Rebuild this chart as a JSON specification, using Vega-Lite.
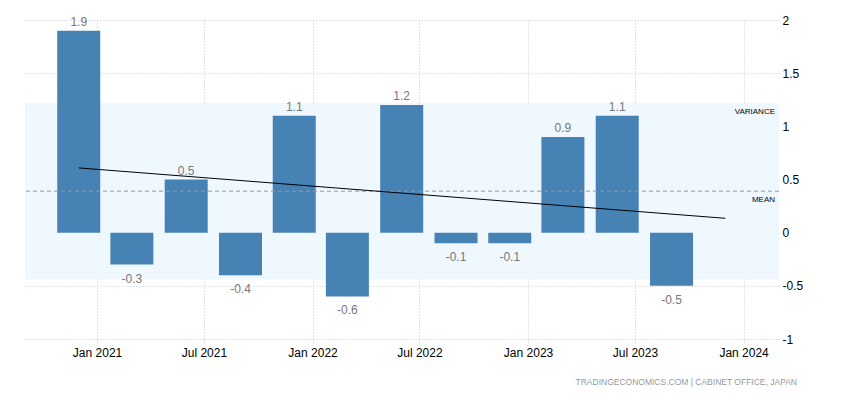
{
  "$schema": "https://vega.github.io/schema/vega-lite/v6.json",
  "width": 754,
  "height": 319,
  "autosize": "none",
  "padding": {"left": 25, "top": 20, "right": 71, "bottom": 61},
  "config": {
    "view": {"stroke": null},
    "font": "Liberation Sans",
    "axis": {"labelFont": "Liberation Sans", "labelFontSize": 12, "labelColor": "#000000", "domain": false}
  },
  "title": {
    "text": "TRADINGECONOMICS.COM  |  CABINET OFFICE, JAPAN",
    "orient": "bottom",
    "anchor": "end",
    "frame": "group",
    "fontSize": 8.5,
    "fontWeight": "normal",
    "color": "#999999",
    "offset": 20,
    "dx": 18
  },
  "datasets": {
    "gdp": [
      {"date": "2020-12-01", "value": 1.9},
      {"date": "2021-03-01", "value": -0.3},
      {"date": "2021-06-01", "value": 0.5},
      {"date": "2021-09-01", "value": -0.4},
      {"date": "2021-12-01", "value": 1.1},
      {"date": "2022-03-01", "value": -0.6},
      {"date": "2022-06-01", "value": 1.2},
      {"date": "2022-09-01", "value": -0.1},
      {"date": "2022-12-01", "value": -0.1},
      {"date": "2023-03-01", "value": 0.9},
      {"date": "2023-06-01", "value": 1.1},
      {"date": "2023-09-01", "value": -0.5}
    ],
    "band": [{"upper": 1.22, "lower": -0.44, "mean": 0.39}],
    "trend": [
      {"date": "2020-12-01", "trend": 0.609},
      {"date": "2023-12-01", "trend": 0.135}
    ]
  },
  "layer": [
    {
      "data": {"name": "band"},
      "mark": {"type": "rect", "color": "#f0f8ff"},
      "encoding": {
        "y": {"field": "upper", "type": "quantitative", "scale": {"domain": [-1, 2]}},
        "y2": {"field": "lower"}
      }
    },
    {
      "data": {"name": "gdp"},
      "mark": {"type": "bar", "color": "#4682b4", "width": 43},
      "encoding": {
        "x": {
          "field": "date", "type": "temporal",
          "scale": {"domain": ["2020-09-01", "2024-03-01"], "padding": 0, "nice": false},
          "axis": {
            "title": null,
            "values": ["2021-01-01", "2021-07-01", "2022-01-01", "2022-07-01", "2023-01-01", "2023-07-01", "2024-01-01"],
            "format": "%b %Y",
            "grid": true, "gridColor": "#c8c8c8", "gridDash": [1, 2], "gridWidth": 1,
            "ticks": true, "tickColor": "#c8c8c8", "tickDash": [1, 2], "tickSize": 6,
            "labelPadding": 2
          }
        },
        "y": {
          "field": "value", "type": "quantitative",
          "scale": {"domain": [-1, 2], "nice": false},
          "axis": {
            "orient": "right", "title": null,
            "values": [-1, -0.5, 0, 0.5, 1, 1.5, 2],
            "labelExpr": "datum.value + ''",
            "grid": true, "gridColor": "#c8c8c8", "gridDash": [1, 2], "gridWidth": 1,
            "ticks": false, "labelPadding": 3
          }
        }
      }
    },
    {
      "data": {"name": "band"},
      "mark": {"type": "rule", "color": "#999999", "strokeDash": [4, 3], "strokeWidth": 1},
      "encoding": {"y": {"field": "mean", "type": "quantitative"}}
    },
    {
      "data": {"name": "band"},
      "mark": {"type": "text", "text": "VARIANCE", "align": "right", "baseline": "middle", "fontSize": 8, "color": "#000000", "x": 750, "dy": 9},
      "encoding": {"y": {"field": "upper", "type": "quantitative"}}
    },
    {
      "data": {"name": "band"},
      "mark": {"type": "text", "text": "MEAN", "align": "right", "baseline": "middle", "fontSize": 8, "color": "#000000", "x": 750, "dy": 9},
      "encoding": {"y": {"field": "mean", "type": "quantitative"}}
    },
    {
      "data": {"name": "trend"},
      "mark": {"type": "line", "color": "#000000", "strokeWidth": 1},
      "encoding": {
        "x": {"field": "date", "type": "temporal"},
        "y": {"field": "trend", "type": "quantitative"}
      }
    },
    {
      "data": {"name": "gdp"},
      "transform": [{"filter": "datum.value >= 0"}],
      "mark": {"type": "text", "baseline": "middle", "dy": -9, "fontSize": 12, "color": "#777777"},
      "encoding": {
        "x": {"field": "date", "type": "temporal"},
        "y": {"field": "value", "type": "quantitative"},
        "text": {"field": "value", "type": "nominal"}
      }
    },
    {
      "data": {"name": "gdp"},
      "transform": [{"filter": "datum.value < 0"}],
      "mark": {"type": "text", "baseline": "middle", "dy": 14, "fontSize": 12, "color": "#777777"},
      "encoding": {
        "x": {"field": "date", "type": "temporal"},
        "y": {"field": "value", "type": "quantitative"},
        "text": {"field": "value", "type": "nominal"}
      }
    }
  ]
}
